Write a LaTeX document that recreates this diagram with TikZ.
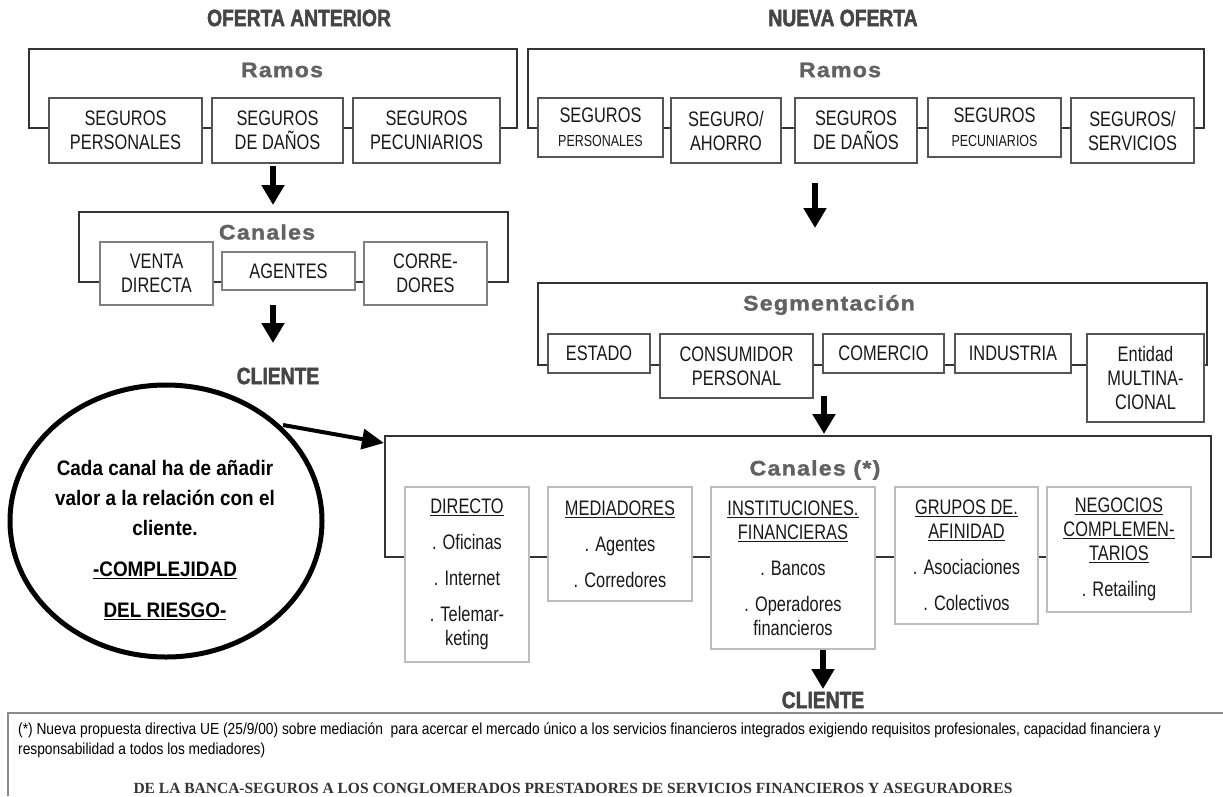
\documentclass[tikz,border=0pt]{standalone}
\usepackage{fontspec}
\setmainfont{Liberation Sans}
\newfontfamily\narrowf[FakeStretch=0.78]{Liberation Sans}
\newfontfamily\notef[FakeStretch=0.86]{Liberation Sans}
\newfontfamily\headf[FakeStretch=0.82,FakeBold=2]{Liberation Sans}
\newfontfamily\titlef[FakeStretch=1.1,LetterSpace=6,FakeBold=1.5]{Liberation Sans}
\newfontfamily\bubblef[FakeStretch=0.9]{Liberation Sans}
\newfontfamily\serifb{Liberation Serif}
\usetikzlibrary{arrows.meta,shapes.geometric}

\definecolor{titlegray}{HTML}{626262}
\definecolor{headgray}{HTML}{454545}
\definecolor{boxdark}{HTML}{555555}
\definecolor{boxmid}{HTML}{808080}
\definecolor{boxlight}{HTML}{BDBDBD}
\definecolor{framegray}{HTML}{333333}
\definecolor{notegray}{HTML}{8A8A8A}

% box from corner (x1,y1) to corner (x2,y2), in pixel-like units
\newcommand{\placebox}[7]{%
  \pgfmathsetmacro{\pbw}{#5-(#3)}%
  \pgfmathsetmacro{\pbh}{#6-(#4)}%
  \node[#1, minimum width=\pbw pt, minimum height=\pbh pt] (#2)
    at ({(#3+#5)/2},{(#4+#6)/2}) {#7};}

\tikzset{
  frame/.style={draw=framegray, line width=1.4pt, inner sep=0},
  ramobox/.style={draw=boxdark, line width=2.6pt, fill=white, align=center,
    inner sep=1pt, text=black!90, font=\narrowf\fontsize{21}{24}\selectfont},
  chanbox/.style={ramobox, draw=boxmid, line width=1.6pt},
  optbox/.style={ramobox, draw=boxlight, line width=2.8pt},
  grouptitle/.style={font=\titlef\bfseries\fontsize{21}{24}\selectfont,
    text=titlegray, inner sep=0},
  head/.style={font=\headf\bfseries\fontsize{23.5}{26}\selectfont,
    text=headgray, inner sep=0},
  bigarrow/.style={draw=black, line width=6pt, -{Triangle[width=22pt,length=20pt]}},
  notearrow/.style={draw=black, line width=4pt, -{Triangle[width=20pt,length=22pt]}},
}

\begin{document}
\begin{tikzpicture}[x=1pt,y=-1pt]
\useasboundingbox (0,0) rectangle (1223,796);

% ---------- column headings ----------
\node[head] (hOld) at (299,18) {OFERTA ANTERIOR};
\node[head] (hNew) at (843,18) {NUEVA OFERTA};

% ---------- former offer: lines of business ----------
\placebox{frame}{ramosL}{29}{49}{517}{128}{}
\node[grouptitle] (ramosLt) at (282,70) {Ramos};
\placebox{ramobox}{persL}{49}{98}{202}{163}{SEGUROS\\PERSONALES}
\placebox{ramobox}{danL}{212}{98}{343}{163}{SEGUROS\\DE DAÑOS}
\placebox{ramobox}{pecL}{353}{98}{500}{163}{SEGUROS\\PECUNIARIOS}

% ---------- former offer: channels ----------
\placebox{frame}{canL}{79}{212}{508}{282}{}
\node[grouptitle] (canLt) at (267,232) {Canales};
\placebox{chanbox}{vdL}{100}{242}{213}{305}{VENTA\\DIRECTA}
\placebox{chanbox}{agL}{222}{252}{355}{290}{AGENTES}
\placebox{chanbox}{coL}{364}{242}{487}{305}{CORRE-\\DORES}

\coordinate (a1s) at (273,166); \coordinate (a1e) at (273,205);
\draw[bigarrow] (a1s) -- (a1e);
\coordinate (a2s) at (273,305); \coordinate (a2e) at (273,343);
\draw[bigarrow] (a2s) -- (a2e);
\node[head] (clientL) at (278,376) {CLIENTE};

% ---------- new offer: lines of business ----------
\placebox{frame}{ramosR}{528}{49}{1204}{128}{}
\node[grouptitle] (ramosRt) at (840,70) {Ramos};
\placebox{ramobox}{persR}{538}{98}{663}{157}{SEGUROS\\{\fontsize{16}{20}\selectfont PERSONALES}}
\placebox{ramobox}{ahoR}{671}{98}{781}{163}{SEGURO/\\AHORRO}
\placebox{ramobox}{danR}{795}{98}{917}{163}{SEGUROS\\DE DAÑOS}
\placebox{ramobox}{pecR}{928}{98}{1061}{157}{SEGUROS\\{\fontsize{16}{20}\selectfont PECUNIARIOS}}
\placebox{ramobox}{serR}{1071}{98}{1194}{163}{SEGUROS/\\SERVICIOS}

\coordinate (a3s) at (815,183); \coordinate (a3e) at (815,228);
\draw[bigarrow] (a3s) -- (a3e);

% ---------- new offer: segmentation ----------
\placebox{frame}{segR}{538}{283}{1207}{365}{}
\node[grouptitle] (segRt) at (829,305) {Segmentación};
\placebox{ramobox}{estS}{548}{334}{650}{373}{ESTADO}
\placebox{ramobox}{conS}{660}{334}{813}{398}{CONSUMIDOR\\PERSONAL}
\placebox{ramobox}{comS}{823}{334}{944}{373}{COMERCIO}
\placebox{ramobox}{indS}{955}{334}{1071}{373}{INDUSTRIA}
\placebox{ramobox}{entS}{1087}{334}{1204}{422}{\fontsize{21}{22}\selectfont Entidad\\MULTINA-\\CIONAL}

\coordinate (a4s) at (824,396); \coordinate (a4e) at (824,434);
\draw[bigarrow] (a4s) -- (a4e);

% ---------- new offer: channels ----------
\placebox{frame}{canR}{385}{436}{1211}{557}{}
\node[grouptitle] (canRt) at (815,470) {Canales (*)};
\placebox{optbox}{dirC}{405}{487}{529}{662}{\underline{DIRECTO}\\[12pt] . Oficinas\\[12pt] . Internet\\[12pt] . Telemar-\\keting}
\placebox{optbox}{medC}{548}{487}{692}{601}{\underline{MEDIADORES}\\[12pt] . Agentes\\[12pt] . Corredores}
\placebox{optbox}{insC}{711}{487}{875}{649}{\underline{INSTITUCIONES.}\\\underline{FINANCIERAS}\\[12pt] . Bancos\\[12pt] . Operadores\\financieros}
\placebox{optbox}{gruC}{895}{487}{1038}{624}{\underline{GRUPOS DE.}\\\underline{AFINIDAD}\\[12pt] . Asociaciones\\[12pt] . Colectivos}
\placebox{optbox}{negC}{1047}{487}{1191}{612}{\underline{NEGOCIOS}\\\underline{COMPLEMEN-}\\\underline{TARIOS}\\[12pt] . Retailing}

\coordinate (a5s) at (823,650); \coordinate (a5e) at (823,689);
\draw[bigarrow] (a5s) -- (a5e);
\node[head] (clientR) at (823,700) {CLIENTE};

% ---------- note bubble ----------
\node[ellipse, draw=black, line width=5pt, minimum width=312pt,
  minimum height=272pt, inner sep=0] (bubble) at (166,521) {};
\node[align=center, inner sep=0, font=\bubblef\bfseries\fontsize{21}{30}\selectfont]
  (bubbletext) at (165,540)
  {Cada canal ha de añadir\\valor a la relación con el\\cliente.\\[11pt]
   \underline{-COMPLEJIDAD}\\[11pt]\underline{DEL RIESGO-}};
\coordinate (bubbleout) at (283,425); \coordinate (canRin) at (384,443);
\draw[notearrow] (bubbleout) -- (canRin);

% ---------- footnote ----------
\draw[draw=notegray, line width=1.3pt] (8,796) -- (8,713) -- (1223,713);
\node[anchor=west, inner sep=0, font=\notef\fontsize{16}{19}\selectfont] (note1) at (18,730)
  {(*) Nueva propuesta directiva UE (25/9/00) sobre mediación\ \ para acercar el mercado único a los servicios financieros integrados exigiendo requisitos profesionales, capacidad financiera y};
\node[anchor=west, inner sep=0, font=\notef\fontsize{16}{19}\selectfont] (note2) at (18,750)
  {responsabilidad a todos los mediadores)};
\node[inner sep=0, text=black!80, font=\serifb\bfseries\fontsize{15.5}{18}\selectfont] (motto) at (573,788)
  {DE LA BANCA-SEGUROS A LOS CONGLOMERADOS PRESTADORES DE SERVICIOS FINANCIEROS Y ASEGURADORES};
\end{tikzpicture}
\end{document}
